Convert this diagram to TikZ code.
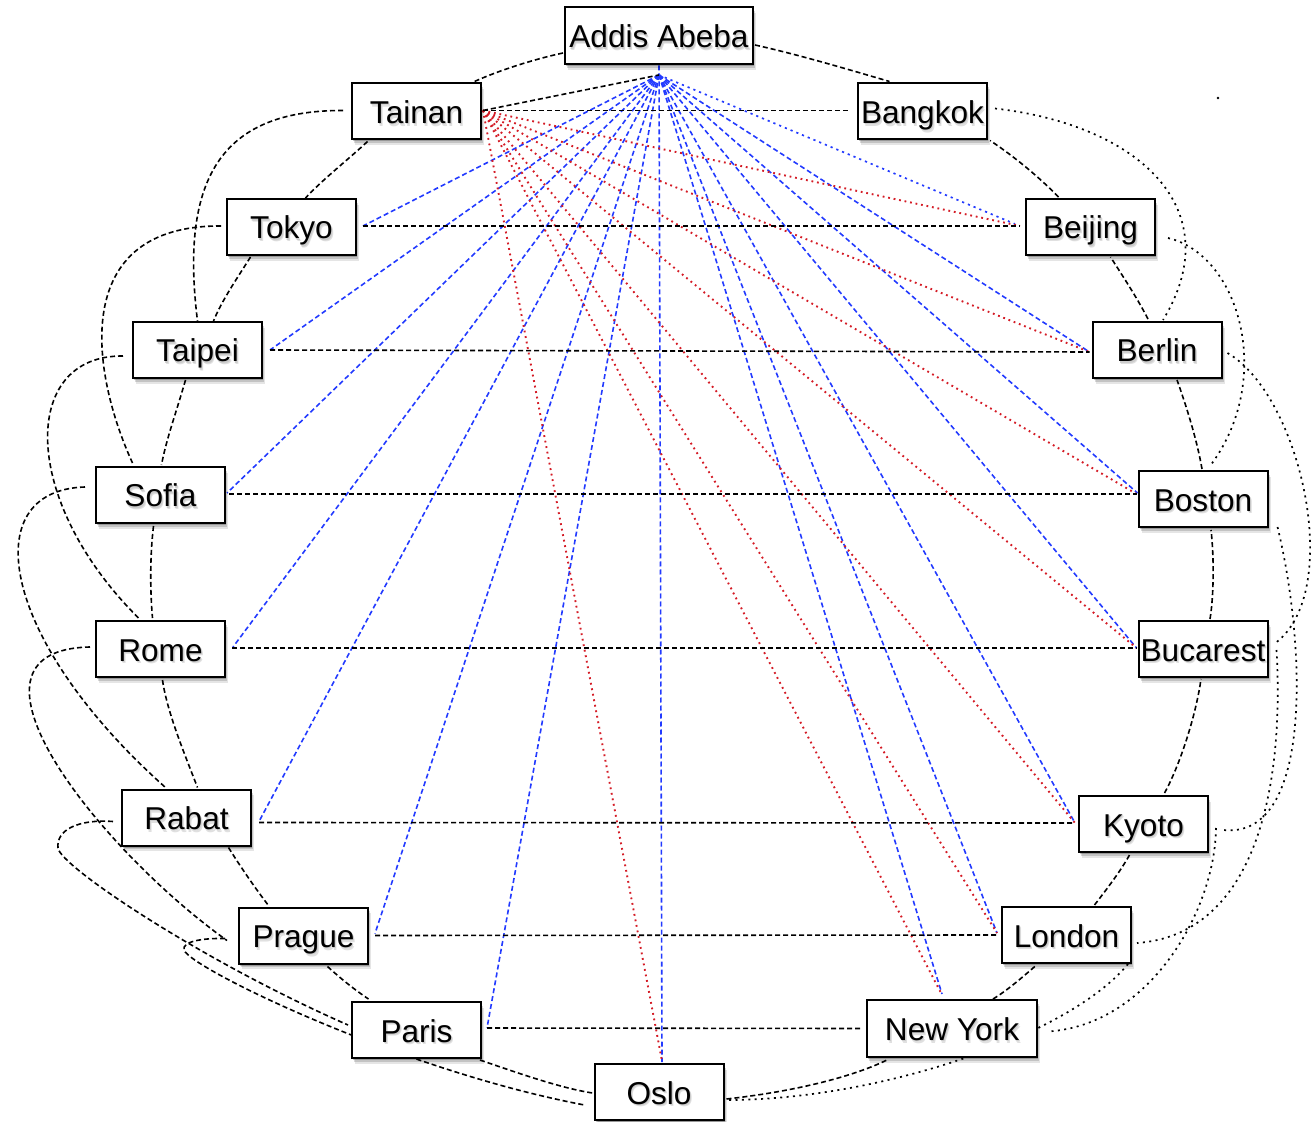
\documentclass[tikz,border=0pt]{standalone}
\usepackage{fontspec}
\setmainfont{Liberation Sans}
\usetikzlibrary{shadows}
\definecolor{spokeblue}{RGB}{34,58,255}
\definecolor{spokered}{RGB}{212,28,38}
\pgfdeclarelayer{edges}
\pgfsetlayers{edges,main}
% city label with a soft drop shadow under the letters
\newcommand\citylabel[1]{\leavevmode
  \rlap{\kern0.9pt\raisebox{-1.3pt}{\color{black!12}#1}}%
  \rlap{\kern0.5pt\raisebox{-0.7pt}{\color{black!20}#1}}#1}
\begin{document}
\begin{tikzpicture}[x=0.5pt,y=-0.5pt,
  city/.style={draw=black, line width=1pt, fill=white, rectangle,
    minimum width=64.5pt, minimum height=28pt, inner sep=0pt,
    font=\fontsize{15.8pt}{19pt}\selectfont, text height=15pt, text depth=3pt,
    general shadow={fill=black, opacity=0.10, shadow xshift=1.6pt, shadow yshift=-2.8pt},
    general shadow={fill=black, opacity=0.15, shadow xshift=1.1pt, shadow yshift=-1.9pt},
    general shadow={fill=black, opacity=0.22, shadow xshift=0.5pt, shadow yshift=-1pt}},
  ringedge/.style={draw=black, line width=0.8pt, dash pattern=on 2.5pt off 1.5pt},
  skipdot/.style={draw=black, line width=0.85pt, dash pattern=on 1pt off 2.2pt},
  bluefan/.style={draw=spokeblue, line width=0.8pt, dash pattern=on 2.5pt off 1.5pt},
  bluedot/.style={draw=spokeblue, line width=0.85pt, dash pattern=on 1.1pt off 2pt},
  redfan/.style={draw=spokered, line width=0.95pt, dash pattern=on 0.9pt off 1.9pt}]
\useasboundingbox (0,0) rectangle (1316,1122);

% ---- cities around the ring ----
\node[city, minimum width=94pt, minimum height=28.5pt] (addis) at (659,36) {\citylabel{Addis Abeba}};
\node[city] (tainan)   at (416.5,111.5) {\citylabel{Tainan}};
\node[city] (bangkok)  at (922.5,111.5) {\citylabel{Bangkok}};
\node[city] (tokyo)    at (291.5,227)   {\citylabel{Tokyo}};
\node[city] (beijing)  at (1090.5,227)  {\citylabel{Beijing}};
\node[city] (taipei)   at (197.5,350)   {\citylabel{Taipei}};
\node[city] (berlin)   at (1157,350)    {\citylabel{Berlin}};
\node[city] (sofia)    at (160.5,495)   {\citylabel{Sofia}};
\node[city] (boston)   at (1203,499)    {\citylabel{Boston}};
\node[city] (rome)     at (160.5,649)   {\citylabel{Rome}};
\node[city] (bucarest) at (1203,649)    {\citylabel{Bucarest}};
\node[city] (rabat)    at (186.5,817.5) {\citylabel{Rabat}};
\node[city] (kyoto)    at (1143.5,824)  {\citylabel{Kyoto}};
\node[city] (prague)   at (303.5,935.5) {\citylabel{Prague}};
\node[city] (london)   at (1066.5,935)  {\citylabel{London}};
\node[city] (paris)    at (416.5,1030)  {\citylabel{Paris}};
\node[city, minimum width=85pt, minimum height=28.5pt] (newyork) at (952,1028.5) {\citylabel{New York}};
\node[city] (oslo)     at (659,1092)    {\citylabel{Oslo}};

\coordinate (hub) at ([shift={(0,9.5)}]addis.south);

\begin{pgfonlayer}{edges}
% ---- spokes from Addis Abeba ----
\draw[bluefan] (hub) -- ([shift={(6,-1)}]tokyo.east);
\draw[bluefan] (hub) -- ([shift={(7,0)}]taipei.east);
\draw[bluefan] (hub) -- ([shift={(1,-2)}]sofia.east);
\draw[bluefan] (hub) -- ([shift={(7,-2)}]rome.east);
\draw[bluefan] (hub) -- ([shift={(7,4)}]rabat.east);
\draw[bluefan] (hub) -- ([shift={(6,-2)}]prague.east);
\draw[bluefan] (hub) -- ([shift={(5,-2)}]paris.east);
\draw[bluefan] (addis.south) -- ([shift={(3,-1)}]oslo.north);
\draw[bluefan] (hub) -- ([shift={(-10,-5)}]newyork.north);
\draw[bluefan] (hub) -- ([shift={(-4,-2)}]london.west);
\draw[bluefan] (hub) -- ([shift={(-3,-1)}]kyoto.west);
\draw[bluefan] (hub) -- ([shift={(-1,-1)}]bucarest.west);
\draw[bluefan] (hub) -- ([shift={(0,-6)}]boston.west);
\draw[bluefan] (hub) -- ([shift={(-2,2)}]berlin.west);
\draw[bluedot] (hub) -- ([shift={(-10,-3)}]beijing.west);

% ---- spokes from Tainan ----
\coordinate (tn) at ([shift={(1,-1)}]tainan.east);
\draw[redfan] (tn) -- ([shift={(-5,-1)}]beijing.west);
\draw[redfan] (tn) -- ([shift={(-2,2)}]berlin.west);
\draw[redfan] (tn) -- ([shift={(-1,-5)}]boston.west);
\draw[redfan] (tn) -- ([shift={(-1,-1)}]bucarest.west);
\draw[redfan] (tn) -- ([shift={(-3,-1)}]kyoto.west);
\draw[redfan] (tn) -- ([shift={(-4,-2)}]london.west);
\draw[redfan] (tn) -- ([shift={(-11,-6)}]newyork.north);
\draw[redfan] (tn) -- ([shift={(3,-2)}]oslo.north);
\draw[ringedge] (tn) -- (hub);

% ---- neighbours on the ring ----
\draw[ringedge] ([shift={(-1,17)}]addis.west) .. controls (535,59) and (500,70) .. ([shift={(58,-1)}]tainan.north);
\draw[ringedge] ([shift={(1,9)}]addis.east) .. controls (800,55) and (850,70) .. ([shift={(-33,-1)}]bangkok.north);
\draw[ringedge] ([shift={(-49,1)}]tainan.south) .. controls (350,158) and (322,180) .. ([shift={(14,0)}]tokyo.north);
\draw[ringedge] ([shift={(-41,1)}]tokyo.south) .. controls (238,277) and (222,300) .. ([shift={(16,0)}]taipei.north);
\draw[ringedge] ([shift={(-12,1)}]taipei.south) .. controls (177,410) and (166,440) .. ([shift={(1,-1)}]sofia.north);
\draw[ringedge] ([shift={(-7,2)}]sofia.south) .. controls (150,555) and (150,590) .. ([shift={(-8,-2)}]rome.north);
\draw[ringedge] ([shift={(2,2)}]rome.south) .. controls (167,712) and (185,755) .. ([shift={(11,-1)}]rabat.north);
\draw[ringedge] ([shift={(42,1)}]rabat.south) .. controls (240,866) and (255,888) .. ([shift={(-35,-1)}]prague.north);
\draw[ringedge] ([shift={(24,2)}]prague.south) .. controls (340,978) and (355,990) .. ([shift={(-48,-2)}]paris.north);
\draw[ringedge] ([shift={(-2,1)}]paris.south east) .. controls (515,1072) and (560,1088) .. ([shift={(-1,1)}]oslo.west);
\draw[ringedge] ([shift={(2,7)}]oslo.east) .. controls (790,1092) and (850,1078) .. ([shift={(-65,2)}]newyork.south);
\draw[ringedge] ([shift={(41,0)}]newyork.north) .. controls (1008,990) and (1025,975) .. ([shift={(-30,1)}]london.south);
\draw[ringedge] ([shift={(28,-1)}]london.north) .. controls (1106,890) and (1120,872) .. ([shift={(-14,2)}]kyoto.south);
\draw[ringedge] ([shift={(21,-2)}]kyoto.north) .. controls (1180,765) and (1196,715) .. ([shift={(-2,1)}]bucarest.south);
\draw[ringedge] ([shift={(7,-1)}]bucarest.north) .. controls (1214,595) and (1214,555) .. ([shift={(8,2)}]boston.south);
\draw[ringedge] ([shift={(-1,-1)}]boston.north) .. controls (1197,440) and (1186,405) .. ([shift={(20,1)}]berlin.south);
\draw[ringedge] ([shift={(-9,-2)}]berlin.north) .. controls (1136,296) and (1122,275) .. ([shift={(20,1)}]beijing.south);
\draw[ringedge] ([shift={(-32,-1)}]beijing.north) .. controls (1040,178) and (1015,157) .. ([shift={(2,0)}]bangkok.south east);

% ---- opposite cities ----
\draw[ringedge] (tn) -- ([shift={(-7,-1)}]bangkok.west);
\draw[ringedge] ([shift={(6,-1)}]tokyo.east) -- ([shift={(-5,-1)}]beijing.west);
\draw[ringedge] ([shift={(7,0)}]taipei.east) -- ([shift={(-2,2)}]berlin.west);
\draw[ringedge] ([shift={(3,-1)}]sofia.east) -- ([shift={(-1,-5)}]boston.west);
\draw[ringedge] ([shift={(6,-1)}]rome.east) -- ([shift={(-1,-1)}]bucarest.west);
\draw[ringedge] ([shift={(7,5)}]rabat.east) -- ([shift={(-3,-1)}]kyoto.west);
\draw[ringedge] ([shift={(6,0)}]prague.east) -- ([shift={(-4,0)}]london.west);
\draw[ringedge] ([shift={(5,-2)}]paris.east) -- ([shift={(-6,0)}]newyork.west);

% ---- second neighbours, west side ----
\draw[ringedge] ([shift={(-8,-1)}]tainan.west) .. controls (220,110) and (180,180) .. (taipei.north);
\draw[ringedge] ([shift={(-5,-1)}]tokyo.west) .. controls (70,225) and (90,370) .. ([shift={(-28,-3)}]sofia.north);
\draw[ringedge] ([shift={(-9,6)}]taipei.west) .. controls (20,355) and (20,500) .. ([shift={(-22,-2)}]rome.north);
\draw[ringedge] ([shift={(-10,-8)}]sofia.west) .. controls (-25,490) and (0,640) .. ([shift={(-21,-1)}]rabat.north);
\draw[ringedge] ([shift={(-8,4)}]rabat.west) .. controls (78,819) and (56,830) .. (58,848)
  .. controls (60,866) and (200,960) .. ([shift={(-3,-5)}]paris.west);
\draw[ringedge] ([shift={(-13,3)}]prague.west) .. controls (200,938) and (182,942) .. (184,950)
  .. controls (190,968) and (400,1070) .. ([shift={(-9,13)}]oslo.west);

% ---- second neighbours, east side ----
\draw[skipdot] ([shift={(7,-3)}]bangkok.east) .. controls (1140,125) and (1230,210) .. ([shift={(6,-1)}]berlin.north);
\draw[skipdot] ([shift={(12,11)}]beijing.east) .. controls (1240,255) and (1275,380) .. ([shift={(7,-4)}]boston.north);
\draw[skipdot] ([shift={(5,3)}]berlin.east) .. controls (1300,395) and (1345,590) .. ([shift={(7,-6)}]bucarest.east);
\draw[skipdot] ([shift={(9,28)}]boston.east) .. controls (1305,640) and (1315,840) .. ([shift={(14,6)}]kyoto.east);
\draw[skipdot] ([shift={(8,1)}]bucarest.east) .. controls (1285,800) and (1250,935) .. ([shift={(5,8)}]london.east);
\draw[skipdot] ([shift={(7,4)}]kyoto.east) .. controls (1215,910) and (1150,1025) .. ([shift={(10,3)}]newyork.east);
\draw[skipdot] ([shift={(-4,0)}]london.south east) .. controls (1070,1035) and (880,1100) .. ([shift={(2,8)}]oslo.east);

\fill (1218,98) circle[radius=0.7pt];
\end{pgfonlayer}

% this loop runs over the corner of the Rabat box
\draw[ringedge] ([shift={(-5,-2)}]rome.west) .. controls (-60,650) and (100,850) .. ([shift={(-11,5)}]prague.west);
\end{tikzpicture}
\end{document}
